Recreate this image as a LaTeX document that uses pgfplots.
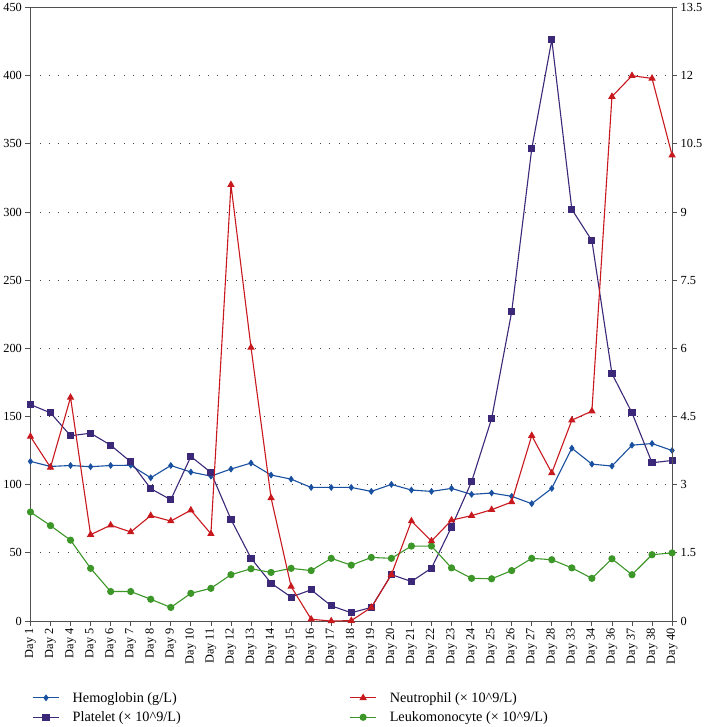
\documentclass[border=0pt]{standalone}
\usepackage{fontspec}
\setmainfont{Liberation Serif}
\usepackage{pgfplots}
\pgfplotsset{compat=1.18}
\usepackage{pgfplotstable}
\definecolor{hemo}{RGB}{25,80,160}
\definecolor{plat}{RGB}{60,40,120}
\definecolor{neut}{RGB}{200,25,30}
\definecolor{leuk}{RGB}{60,150,40}
\definecolor{axgray}{RGB}{80,80,80}

\pgfplotstableread{
x hemo plat neut leuk
0 117.1 158.8 4.06 2.40
1 113.4 152.7 3.38 2.10
2 114.1 135.9 4.92 1.78
3 113.2 137.8 1.90 1.16
4 114.1 129.0 2.11 0.65
5 114.3 116.8 1.96 0.65
6 105.1 97.1 2.32 0.48
7 114.1 89.0 2.20 0.30
8 109.3 120.7 2.44 0.61
9 106.3 109.0 1.92 0.72
10 111.5 74.6 9.60 1.02
11 115.9 46.1 6.02 1.15
12 107.1 27.8 2.71 1.07
13 104.1 17.6 0.76 1.16
14 98.0 22.9 0.04 1.11
15 98.0 11.2 0.00 1.38
16 98.0 6.1 0.01 1.23
17 95.1 10.0 0.30 1.40
18 100.2 34.1 1.02 1.38
19 96.1 29.0 2.20 1.65
20 95.1 38.8 1.76 1.65
21 97.3 69.0 2.22 1.17
22 92.9 102.2 2.32 0.94
23 93.9 148.5 2.45 0.93
24 91.5 226.8 2.62 1.11
25 86.1 346.3 4.08 1.38
26 97.3 426.4 3.26 1.35
27 126.8 302.0 4.42 1.17
28 115.1 279.0 4.62 0.94
29 113.7 181.5 11.54 1.37
30 129.0 152.7 12.00 1.02
31 130.2 116.1 11.94 1.46
32 125.1 117.8 10.25 1.50
}\datatable

\pgfplotsset{
  common/.style={
    scale only axis,
    width=639pt, height=611pt,
    xmin=0, xmax=32,
    clip=false,
    tick align=outside,
    major tick length=5pt,
    axis line style={draw=axgray, line width=1.1pt},
    every tick/.style={draw=axgray, line width=0.8pt},
    tick label style={font=\fontsize{12.3}{14}\selectfont},
    /pgf/number format/assume math mode=true,
  },
  ser/.style={line width=1.1pt},
}

\begin{document}
\begin{tikzpicture}
\begin{axis}[
  common,
  ymin=0, ymax=450,
  ytick={0,50,...,450},
  ytick pos=left,
  xtick={0,...,32},
  xtick pos=bottom,
  xticklabels={Day 1,Day 2,Day 4,Day 5,Day 6,Day 7,Day 8,Day 9,Day 10,Day 11,Day 12,Day 13,Day 14,Day 15,Day 16,Day 17,Day 18,Day 19,Day 20,Day 21,Day 22,Day 23,Day 24,Day 25,Day 26,Day 27,Day 28,Day 33,Day 34,Day 36,Day 37,Day 38,Day 40},
  xticklabel style={rotate=90, anchor=east, inner sep=2pt},
  ymajorgrids,
  grid style={draw=black!75, line width=0.9pt, dash pattern=on 0.9pt off 8.4pt},
  legend columns=2,
  legend style={draw=none, fill=none, at={(axis description cs:-0.002,-0.109)}, anchor=north west,
    font=\fontsize{14.2}{16}\selectfont, row sep=4pt,
    /tikz/every even column/.append style={column sep=166pt}},
  legend cell align=left,
  legend image code/.code={\draw[mark repeat=2,mark phase=2] plot coordinates {(0pt,0pt) (13pt,0pt) (26pt,0pt)}; \path (37pt,0pt);},
]
\addplot[ser, color=hemo, mark=diamond*, mark size=2.6pt] table[x=x,y=hemo]{\datatable};
\addlegendentry{Hemoglobin (g/L)}
\addlegendimage{ser, color=neut, mark=triangle*, mark size=3.2pt}
\addlegendentry{Neutrophil (× 10\textasciicircum 9/L)}
\addplot[ser, color=plat, mark=square*, mark size=3pt] table[x=x,y=plat]{\datatable};
\addlegendentry{Platelet (× 10\textasciicircum 9/L)}
\addlegendimage{ser, color=leuk, mark=*, mark size=3pt}
\addlegendentry{Leukomonocyte (× 10\textasciicircum 9/L)}
\end{axis}
\begin{axis}[
  common,
  ymin=0, ymax=13.5,
  ytick={0,1.5,...,13.5},
  yticklabels={0,1.5,3,4.5,6,7.5,9,10.5,12,13.5},
  axis y line*=right,
  axis x line=none,
]
\addplot[ser, color=leuk, mark=*, mark size=3pt] table[x=x,y=leuk]{\datatable};
\addplot[ser, color=neut, mark=triangle*, mark size=3.2pt] table[x=x,y=neut]{\datatable};
\end{axis}
\end{tikzpicture}
\end{document}
